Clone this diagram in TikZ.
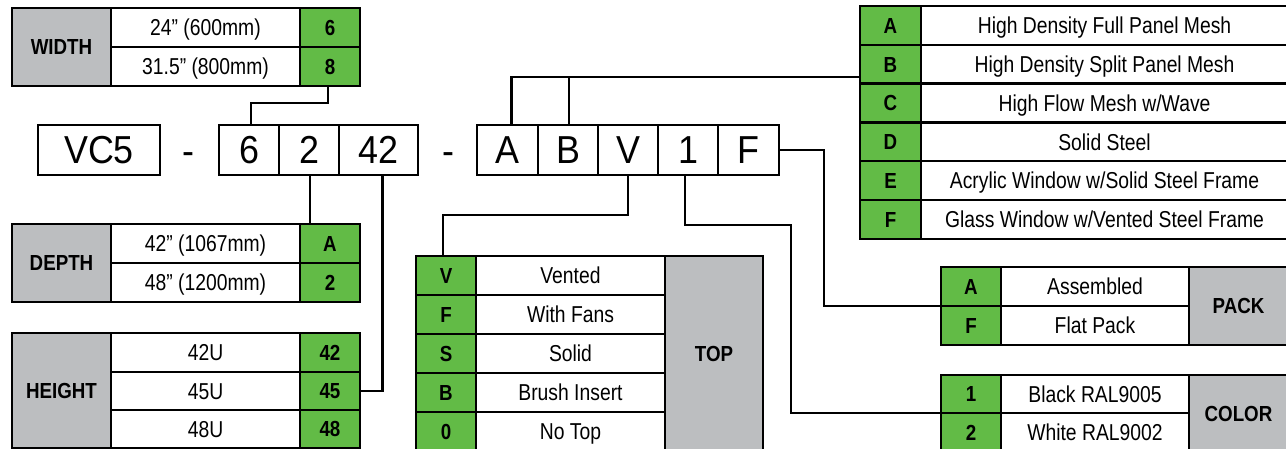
\documentclass[tikz,border=0pt]{standalone}
\usepackage{fontspec}
\setmainfont{Liberation Sans}
\newfontfamily\tabfont{Liberation Sans}[FakeStretch=0.84]
\newfontfamily\boldtab{Liberation Sans}[FakeStretch=0.86]
\newfontfamily\bigfont{Liberation Sans}[FakeStretch=0.92]
\usetikzlibrary{calc}
\definecolor{codegreen}{RGB}{98,187,70}
\definecolor{labelgray}{RGB}{188,190,192}
\tikzset{
 cellbox/.style={draw=black, line width=2.4pt, inner sep=0pt, outer sep=0pt, text depth=0pt, align=center},
 desccell/.style={cellbox, fill=white, text height=16.5pt, font=\tabfont\fontsize{23}{26}\selectfont},
 codecell/.style={cellbox, fill=codegreen, text height=15.6pt, font=\boldtab\bfseries\fontsize{21.8}{24}\selectfont},
 cattag/.style={cellbox, fill=labelgray, text height=15.6pt, font=\boldtab\bfseries\fontsize{21.8}{24}\selectfont},
 bigbox/.style={cellbox, fill=white, text height=28pt, font=\bigfont\fontsize{39}{42}\selectfont},
 dashtext/.style={inner sep=0pt, anchor=base, font=\bigfont\fontsize{39}{42}\selectfont},
 wire/.style={draw=black, line width=2.4pt, line join=miter},
}
\newcommand\cellnode[7]{\node[#6, minimum width={(#4-#2)*1pt}, minimum height={(#5-#3)*1pt}] (#1) at ({(#2+#4)/2},{(#3+#5)/2}) {#7};}
\begin{document}
\begin{tikzpicture}[x=1pt,y=-1pt]
\useasboundingbox (0,0) rectangle (1286,449);
\clip (0,0) rectangle (1286,449);
% WIDTH
\cellnode{wL}{12}{8}{111}{86}{cattag}{WIDTH}
\cellnode{w1}{111}{8}{300}{47}{desccell}{24” (600mm)}
\cellnode{w2}{111}{47}{300}{86}{desccell}{31.5” (800mm)}
\cellnode{wc1}{300}{8}{360}{47}{codecell}{6}
\cellnode{wc2}{300}{47}{360}{86}{codecell}{8}
% DEPTH
\cellnode{dL}{12}{224}{111}{302}{cattag}{DEPTH}
\cellnode{d1}{111}{224}{300}{263}{desccell}{42” (1067mm)}
\cellnode{d2}{111}{263}{300}{302}{desccell}{48” (1200mm)}
\cellnode{dc1}{300}{224}{360}{263}{codecell}{A}
\cellnode{dc2}{300}{263}{360}{302}{codecell}{2}
% HEIGHT
\cellnode{hL}{12}{333}{111}{448}{cattag}{HEIGHT}
\cellnode{h1}{111}{333}{300}{372}{desccell}{42U}
\cellnode{h2}{111}{372}{300}{410}{desccell}{45U}
\cellnode{h3}{111}{410}{300}{448}{desccell}{48U}
\cellnode{hc1}{300}{333}{360}{372}{codecell}{42}
\cellnode{hc2}{300}{372}{360}{410}{codecell}{45}
\cellnode{hc3}{300}{410}{360}{448}{codecell}{48}
% code row
\cellnode{cVC}{38}{125}{160}{175}{bigbox}{VC5}
\node[dashtext] (dash1) at (188,165) {-};
\cellnode{c6}{219}{125}{279}{175}{bigbox}{6}
\cellnode{c2}{279}{125}{339}{175}{bigbox}{2}
\cellnode{c42}{339}{125}{418}{175}{bigbox}{42}
\node[dashtext] (dash2) at (448,165) {-};
\cellnode{cA}{477}{125}{538}{175}{bigbox}{A}
\cellnode{cB}{538}{125}{598}{175}{bigbox}{B}
\cellnode{cV}{598}{125}{658}{175}{bigbox}{V}
\cellnode{c1}{658}{125}{718}{175}{bigbox}{1}
\cellnode{cF}{718}{125}{779}{175}{bigbox}{F}
% door table
\cellnode{rc1}{860}{6}{921}{44.8}{codecell}{A}
\cellnode{rc2}{860}{44.8}{921}{83.7}{codecell}{B}
\cellnode{rc3}{860}{83.7}{921}{122.5}{codecell}{C}
\cellnode{rc4}{860}{122.5}{921}{161.3}{codecell}{D}
\cellnode{rc5}{860}{161.3}{921}{200.2}{codecell}{E}
\cellnode{rc6}{860}{200.2}{921}{239}{codecell}{F}
\cellnode{r1}{921}{6}{1288}{44.8}{desccell}{High Density Full Panel Mesh}
\cellnode{r2}{921}{44.8}{1288}{83.7}{desccell}{High Density Split Panel Mesh}
\cellnode{r3}{921}{83.7}{1288}{122.5}{desccell}{High Flow Mesh w/Wave}
\cellnode{r4}{921}{122.5}{1288}{161.3}{desccell}{Solid Steel}
\cellnode{r5}{921}{161.3}{1288}{200.2}{desccell}{Acrylic Window w/Solid Steel Frame}
\cellnode{r6}{921}{200.2}{1288}{239}{desccell}{Glass Window w/Vented Steel Frame}
% TOP
\cellnode{tc1}{416}{256}{476}{295}{codecell}{V}
\cellnode{tc2}{416}{295}{476}{334}{codecell}{F}
\cellnode{tc3}{416}{334}{476}{373}{codecell}{S}
\cellnode{tc4}{416}{373}{476}{412}{codecell}{B}
\cellnode{tc5}{416}{412}{476}{451}{codecell}{0}
\cellnode{t1}{476}{256}{665}{295}{desccell}{Vented}
\cellnode{t2}{476}{295}{665}{334}{desccell}{With Fans}
\cellnode{t3}{476}{334}{665}{373}{desccell}{Solid}
\cellnode{t4}{476}{373}{665}{412}{desccell}{Brush Insert}
\cellnode{t5}{476}{412}{665}{451}{desccell}{No Top}
\cellnode{tL}{665}{256}{763}{451}{cattag}{TOP}
% PACK
\cellnode{pc1}{941}{267}{1001}{306}{codecell}{A}
\cellnode{pc2}{941}{306}{1001}{345}{codecell}{F}
\cellnode{p1}{1001}{267}{1189}{306}{desccell}{Assembled}
\cellnode{p2}{1001}{306}{1189}{345}{desccell}{Flat Pack}
\cellnode{pL}{1189}{267}{1288}{345}{cattag}{PACK}
% COLOR
\cellnode{kc1}{941}{375}{1001}{413}{codecell}{1}
\cellnode{kc2}{941}{413}{1001}{452}{codecell}{2}
\cellnode{k1}{1001}{375}{1189}{413}{desccell}{Black RAL9005}
\cellnode{k2}{1001}{413}{1189}{452}{desccell}{White RAL9002}
\cellnode{kL}{1189}{375}{1288}{452}{cattag}{COLOR}
% connectors
\coordinate (wbend) at (251,103);
\draw[wire] ([xshift=-2]wc2.south) |- (wbend) -- ([xshift=2]c6.north);
\coordinate (abus) at (860,77);
\draw[wire] ([xshift=4]cA.north) |- (abus);
\draw[wire] ([xshift=1]cB.north) -- ([xshift=1]cB.north |- abus);
\draw[wire] ([xshift=1]c2.south) -- ([xshift=1]c2.south |- dc1.north);
\draw[wire] ([xshift=4]c42.south) |- (hc2.east);
\coordinate (vbend) at (443,215);
\draw[wire] (cV.south) |- (vbend) -- (vbend |- tc1.north);
\coordinate (fbend) at (824,306);
\draw[wire] (cF.east) -| (fbend) -- (pc1.south west);
\coordinate (onebend) at (791,225);
\draw[wire] ([xshift=-3]c1.south) |- (onebend) |- (kc1.south west);
\end{tikzpicture}
\end{document}
